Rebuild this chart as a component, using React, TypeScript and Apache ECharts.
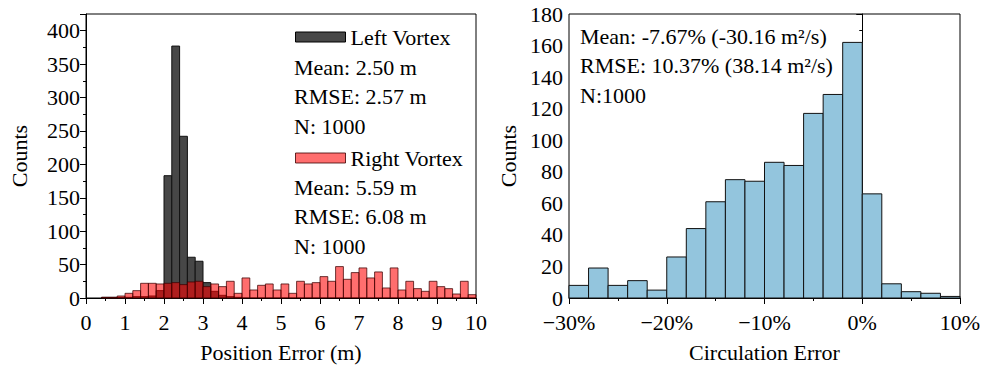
import React, { useEffect, useRef } from "react";
import * as echarts from "echarts";

// Position error histogram (0–10 m, 0.2 m bins)
const posBinStart = 0;
const posBinWidth = 0.2;
const leftVortexCounts = [
  0, 0, 1, 1, 1, 1, 2, 2, 3, 11,
  183, 377, 242, 61, 55, 23, 10, 4, 2, 1,
  0, 0, 0, 0, 0, 0, 0, 0, 0, 0,
  0, 0, 0, 0, 0, 0, 0, 0, 0, 0,
  0, 0, 0, 0, 0, 0, 0, 0, 0, 0,
];
const rightVortexCounts = [
  0, 0, 1, 1, 3, 7, 11, 22, 22, 21,
  22, 23, 20, 24, 25, 17, 21, 17, 25, 7,
  30, 12, 19, 21, 12, 21, 7, 25, 21, 23,
  32, 25, 47, 28, 38, 45, 30, 39, 15, 45,
  12, 25, 14, 10, 25, 17, 14, 6, 25, 5,
];
// Circulation error histogram (-30%–10%, 2% bins)
const circBinStart = -30;
const circBinWidth = 2;
const circCounts = [8, 19, 8, 11, 5, 26, 44, 61, 75, 74, 86, 84, 117, 129, 162, 66, 9, 4, 3, 1];

const leftStats = ["Mean: 2.50 m", "RMSE: 2.57 m", "N: 1000"];
const rightStats = ["Mean: 5.59 m", "RMSE: 6.08 m", "N: 1000"];
const circStats = ["Mean: -7.67% (-30.16 m\u00b2/s)", "RMSE: 10.37% (38.14 m\u00b2/s)", "N:1000"];

const FONT = "Liberation Serif";

function toBins(counts: number[], start: number, w: number) {
  return counts.map((c, i) => [start + i * w, start + (i + 1) * w, c]);
}

function makeRender(fill: string, stroke: string) {
  return (params: any, api: any) => {
    const x0 = api.value(0);
    const x1 = api.value(1);
    const y = api.value(2);
    if (!y) return null;
    const p0 = api.coord([x0, 0]);
    const p1 = api.coord([x1, y]);
    return {
      type: "rect",
      shape: { x: p0[0], y: p1[1], width: p1[0] - p0[0], height: p0[1] - p1[1] },
      style: { fill, stroke, lineWidth: 1 },
    };
  };
}

export default function App() {
  const ref = useRef<HTMLDivElement>(null);
  useEffect(() => {
    if (!ref.current) return;
    const chart = echarts.init(ref.current, null, { renderer: "svg" });
    const axisCommon = {
      axisLine: { show: true, lineStyle: { color: "#000", width: 1 } },
      axisTick: { show: true, inside: false, length: 6, lineStyle: { color: "#000" } },
      minorTick: { show: true, splitNumber: 2, length: 3, lineStyle: { color: "#000" } },
      splitLine: { show: false },
      axisLabel: { color: "#000", fontFamily: FONT, fontSize: 22, margin: 6, lineHeight: 18 },
      nameTextStyle: { color: "#000", fontFamily: FONT, fontSize: 22 },
      nameLocation: "middle" as const,
    };
    const blackFill = "#474747";
    const redFill = "rgba(255,0,0,0.57)";
    const blueFill = "#93c5dd";
    const textLines: any[] = [];
    leftStats.forEach((t, i) =>
      textLines.push({ type: "text", left: 294, top: 56 + i * 29.5, style: { text: t, font: `22px "${FONT}"`, fill: "#000" } })
    );
    rightStats.forEach((t, i) =>
      textLines.push({ type: "text", left: 294, top: 176 + i * 29.5, style: { text: t, font: `22px "${FONT}"`, fill: "#000" } })
    );
    circStats.forEach((t, i) =>
      textLines.push({ type: "text", left: 580, top: 25 + i * 29.5, style: { text: t, font: `22px "${FONT}"`, fill: "#000" } })
    );
    chart.setOption({
      animation: false,
      backgroundColor: "#fff",
      grid: [
        { left: 86, top: 14, width: 390, height: 287, show: true, borderColor: "#000", borderWidth: 1 },
        { left: 569, top: 14, width: 391, height: 287, show: true, borderColor: "#000", borderWidth: 1 },
      ],
      legend: [
        {
          left: 290, top: 21, orient: "vertical", itemWidth: 50, itemHeight: 10, itemGap: 0,
          textStyle: { color: "#000", fontFamily: FONT, fontSize: 22 },
          data: [{ name: "Left Vortex", icon: "rect", itemStyle: { color: blackFill, borderColor: "#000", borderWidth: 1 } }],
        },
        {
          left: 290, top: 142, orient: "vertical", itemWidth: 50, itemHeight: 10, itemGap: 0,
          textStyle: { color: "#000", fontFamily: FONT, fontSize: 22 },
          data: [{ name: "Right Vortex", icon: "rect", itemStyle: { color: redFill, borderColor: "rgba(60,0,0,0.8)", borderWidth: 1 } }],
        },
      ],
      xAxis: [
        {
          ...axisCommon, type: "value", gridIndex: 0, min: 0, max: 10, interval: 1,
          name: "Position Error (m)", nameGap: 43,
          axisLabel: { ...axisCommon.axisLabel, margin: 15 },
        },
        {
          ...axisCommon, type: "value", gridIndex: 1, min: -30, max: 10, interval: 10,
          name: "Circulation Error", nameGap: 43,
          axisLabel: { ...axisCommon.axisLabel, margin: 15, formatter: (v: number) => `${v < 0 ? "\u2212" + Math.abs(v) : v}%` },
        },
      ],
      yAxis: [
        {
          ...axisCommon, type: "value", gridIndex: 0, min: 0, max: 425, interval: 50,
          name: "Counts", nameGap: 56,
          axisLabel: { ...axisCommon.axisLabel, showMaxLabel: false },
        },
        {
          ...axisCommon, type: "value", gridIndex: 1, min: 0, max: 180, interval: 20,
          name: "Counts", nameGap: 50,
        },
      ],
      series: [
        {
          name: "Left Vortex", type: "custom", xAxisIndex: 0, yAxisIndex: 0,
          itemStyle: { color: blackFill },
          renderItem: makeRender(blackFill, "#111"),
          encode: { x: [0, 1], y: 2 },
          data: toBins(leftVortexCounts, posBinStart, posBinWidth),
        },
        {
          name: "Right Vortex", type: "custom", xAxisIndex: 0, yAxisIndex: 0,
          itemStyle: { color: redFill },
          renderItem: makeRender(redFill, "rgba(60,0,0,0.75)"),
          encode: { x: [0, 1], y: 2 },
          data: toBins(rightVortexCounts, posBinStart, posBinWidth),
        },
        {
          name: "Circulation", type: "custom", xAxisIndex: 1, yAxisIndex: 1,
          itemStyle: { color: blueFill },
          renderItem: makeRender(blueFill, "#111"),
          encode: { x: [0, 1], y: 2 },
          data: toBins(circCounts, circBinStart, circBinWidth),
        },
      ],
      graphic: textLines,
    });
    return () => chart.dispose();
  }, []);
  return <div ref={ref} style={{ width: 984, height: 368, position: "absolute", left: 0, top: 0 }} />;
}
